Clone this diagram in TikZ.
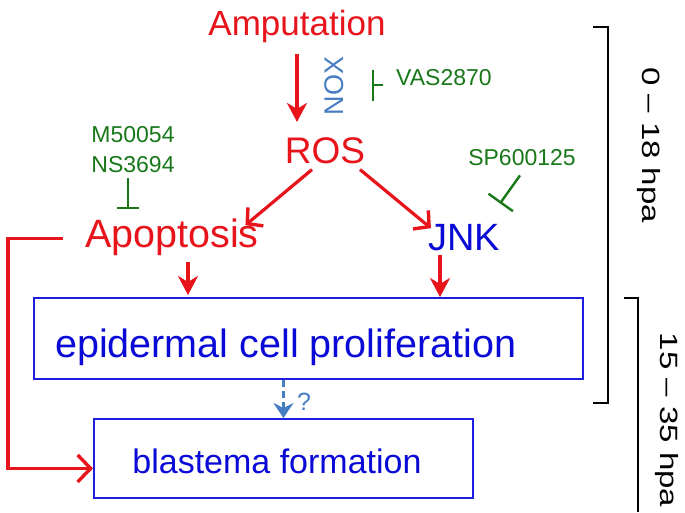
\documentclass[tikz,border=0pt]{standalone}
\usepackage{fontspec}
\setmainfont{Liberation Sans}
\usetikzlibrary{arrows.meta,calc}
\definecolor{myred}{RGB}{232,20,28}
\definecolor{myblue}{RGB}{10,10,215}
\definecolor{boxblue}{RGB}{30,30,225}
\definecolor{mygreen}{RGB}{25,120,25}
\definecolor{steel}{RGB}{70,125,195}
\begin{document}
\begin{tikzpicture}[x=1pt,y=-1pt,
  big/.style={inner sep=0pt,anchor=base,font=\fontsize{#1}{#1}\selectfont},
  small/.style={inner sep=0pt,anchor=base,text=mygreen,font=\fontsize{23}{27}\selectfont},
  redarr/.style={draw=myred,line width=3.2pt,-{Stealth[length=19pt,width=20pt,inset=6pt]}},
  redbarb/.style={draw=myred,line width=3.2pt,-{Straight Barb[length=11pt,width=24pt,line width=3.4pt]}},
  inhib/.style={draw=mygreen,line width=2.4pt},
  boxst/.style={draw=boxblue,line width=1.9pt},
  boxtext/.style={inner sep=0pt,anchor=base,text=myblue,font=\fontsize{#1}{#1}\selectfont},
  brk/.style={draw=black,line width=1.9pt},
  hpa/.style={inner sep=0pt,font=\fontsize{25}{28}\selectfont,rotate=-90}]
\useasboundingbox (0,0) rectangle (685,512);
\fill[white] (0,0) rectangle (685,512);

\node[big=35,text=myred] (amp) at (297,35) {Amputation};
\node[big=37,text=myred] (ros) at (325,163) {ROS};
\node[big=39.5,text=myred] (apo) at (172,247) {Apoptosis};
\node[big=38,text=myblue] (jnk) at (464,250) {JNK};
\node[inner sep=0pt,rotate=90,text=steel,font=\fontsize{27}{30}\selectfont] (nox) at (334,86) {NOX};
\node[small,anchor=base west] (vas) at (396,85) {VAS2870};
\node[small] (m5) at (133,142) {M50054};
\node[small] (ns) at (133,172) {NS3694};
\node[small] (sp) at (522,165) {SP600125};

\node[boxst,anchor=north west,minimum width=549pt,minimum height=81pt] (epi) at (33,297) {};
\node[boxtext=39.5,anchor=base west] (epit) at (55,357) {epidermal cell proliferation};
\node[boxst,anchor=north west,minimum height=79pt,minimum width=379pt] (bla) at (93,418) {};
\node[boxtext=34] (blat) at (277,473) {blastema formation};

% arrows
\draw[redarr,shorten <=12pt,shorten >=15pt] (amp.south) -- (amp.south |- ros.north);
\draw[redbarb] ($(ros.south)+(-13,6)$) -- ($(apo.north east)+(-13.5,7)$);
\draw[redbarb] ($(ros.south)+(35,6)$) -- ($(jnk.north west)+(3,4.5)$);
\coordinate (apoout) at ($(apo.south)+(16,7)$);
\draw[redarr,shorten >=2pt] (apoout) -- (apoout |- epi.north);
\coordinate (jnkout) at ($(jnk.south)+(-24,4)$);
\draw[redarr] (jnkout) -- (jnkout |- epi.north);
\draw[draw=myred,line width=3.2pt,-{Straight Barb[length=13pt,width=27pt,line width=3.4pt]}] ($(apo.west)+(-22,1.5)$) -- ++(-55,0) |- ($(bla.west)+(0,10)$);
\draw[draw=steel,line width=2.8pt,dash pattern=on 7pt off 4pt,-{Stealth[length=15pt,width=20pt,inset=5pt]}] (bla.north |- epi.south) -- (bla.north);
\node[inner sep=0pt,text=steel,font=\fontsize{25}{28}\selectfont] (q) at (304,402) {?};

% inhibitors
\draw[inhib,-{Bar[width=31pt,line width=2.4pt]}] ($(vas.west)+(-13,8)$) -- ++(-11,0);
\draw[inhib,-{Bar[width=22pt,line width=2.4pt]}] ($(ns.south)+(-5,6)$) -- ++(0,31);
\draw[inhib,-{Bar[width=30pt,line width=2.4pt]}] ($(sp.south)+(-2,10)$) -- ++(-20,28);

% brackets
\draw[brk] (593,27) -- (608,27) -- (608,403) -- (593,403);
\draw[brk] (624,298) -- (638,298) -- (638,512);
\node[hpa] (h1) at (649,145) {\scalebox{1.32}[1]{0 – 18 hpa}};
\node[hpa] (h2) at (667,420) {\scalebox{1.32}[1]{15 – 35 hpa}};
\end{tikzpicture}
\end{document}
